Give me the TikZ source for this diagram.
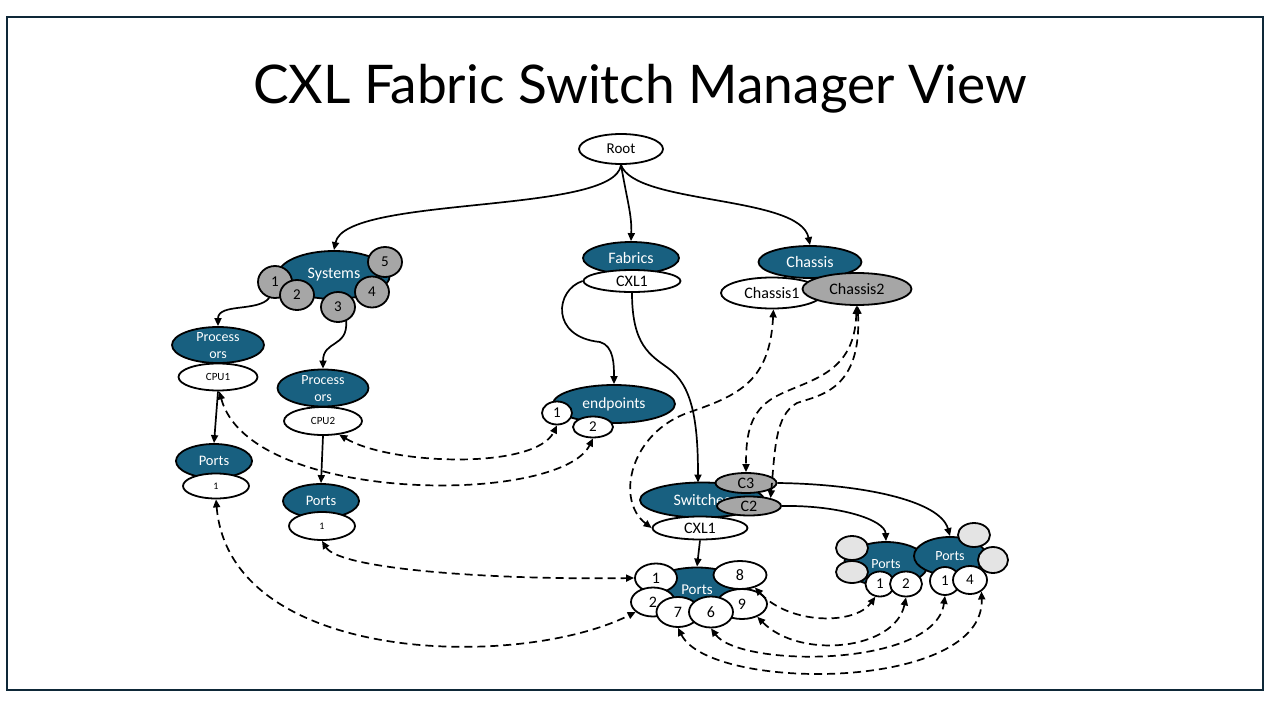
\documentclass[tikz,border=0pt]{standalone}
\usepackage{fontspec}
\setmainfont{Carlito}
\newfontfamily\titlefont{Lato}
\usepackage{graphicx}
\usetikzlibrary{shapes.geometric,arrows.meta}
\definecolor{nodeblue}{RGB}{24,96,128}
\definecolor{satgray}{RGB}{166,166,166}
\definecolor{lgray}{RGB}{228,228,228}
\definecolor{frameC}{RGB}{14,40,56}
\newcommand\fsz[1]{\fontsize{#1}{#1}\selectfont}
\begin{document}
\begin{tikzpicture}[x=1pt,y=-1pt,
  baseE/.style={ellipse, draw=black, line width=1.8pt, inner sep=0pt},
  blueE/.style={baseE, fill=nodeblue, text=white},
  whiteE/.style={baseE, fill=white},
  grayE/.style={baseE, fill=satgray},
  lgrayE/.style={baseE, fill=lgray},
  sz/.style 2 args={minimum width=#1pt, minimum height=#2pt},
  btxt/.style={text=white, align=center, inner sep=0pt, font=\fontsize{14}{17}\selectfont},
  conn/.style={line width=1.7pt, -{Triangle[length=8pt,width=7pt]}},
  dconn/.style={line width=1.7pt, dash pattern=on 8pt off 5pt,
     {Triangle[length=8pt,width=7pt]}-{Triangle[length=8pt,width=7pt]}}
]
\useasboundingbox (0,0) rectangle (1280,720);
\fill[white] (0,0) rectangle (1280,720);
\draw[line width=2pt, frameC] (7,17) rectangle (1263,690);

% title
\node[anchor=base, inner sep=0pt] (title) at (640,103)
  {\resizebox{774pt}{!}{\titlefont CXL Fabric Switch Manager View}};

% root
\node[whiteE, sz={84}{30}, font=\fsz{15}] (root) at (621,149) {Root};

% systems
\node[blueE, sz={112}{48}, font=\fsz{16}] (sys) at (334,275) {Systems};
\node[grayE, sz={34}{32}, font=\fsz{15}] (s1) at (275,282) {1};
\node[grayE, sz={34}{30}, font=\fsz{15}] (s2) at (297,295) {2};
\node[grayE, sz={34}{30}, font=\fsz{15}] (s3) at (338,307) {3};
\node[grayE, sz={34}{31}, font=\fsz{15}] (s4) at (372,292) {4};
\node[grayE, sz={34}{30}, font=\fsz{15}] (s5) at (385,262) {5};

% processors A
\node[blueE, sz={92}{36}] (procA) at (218,345) {};
\node[btxt] (procAT) at (218,346) {Process\\ors};
\node[whiteE, sz={79}{27}, font=\fsz{11}] (cpu1) at (218,377) {CPU1};
% processors B
\node[blueE, sz={91}{37}] (procB) at (323,388) {};
\node[btxt] (procBT) at (323,389) {Process\\ors};
\node[whiteE, sz={78}{28}, font=\fsz{11}] (cpu2) at (323,421) {CPU2};

% ports A/B
\node[blueE, sz={76}{34}, font=\fsz{14.5}] (portsA) at (214,461) {Ports};
\node[whiteE, sz={66}{25}, font=\fsz{10}] (pa1) at (216,486) {1};
\node[blueE, sz={76}{34}, font=\fsz{14.5}] (portsB) at (321,501) {Ports};
\node[whiteE, sz={66}{28}, font=\fsz{10}] (pb1) at (322,526) {1};

% fabrics
\node[blueE, sz={96}{32}, font=\fsz{16}] (fab) at (631,258) {Fabrics};
\node[whiteE, sz={97}{22}, font=\fsz{16}] (fabcxl) at (632,281) {CXL1};

% chassis
\node[blueE, sz={103}{32}, font=\fsz{16}] (chas) at (810,262) {Chassis};
\node[whiteE, sz={102}{31}, font=\fsz{16}] (ch1) at (772,293) {Chassis1};
\node[grayE, sz={109}{32}, font=\fsz{16}] (ch2) at (857,289) {Chassis2};

% endpoints
\node[blueE, sz={122}{38}, font=\fsz{15.5}] (ep) at (614,404) {endpoints};
\node[whiteE, sz={30}{23}, font=\fsz{15}] (ep1) at (557,413) {1};
\node[whiteE, sz={40}{21}, font=\fsz{15}] (ep2) at (593,427) {2};

% switches
\node[blueE, sz={124}{35}, font=\fsz{16}] (sw) at (702,500) {Switches};
\node[grayE, sz={61}{20}, font=\fsz{16}] (c3) at (746,483) {C3};
\node[grayE, sz={64}{19}, font=\fsz{16}] (c2) at (749,506) {C2};
\node[whiteE, sz={95}{23}, font=\fsz{16}] (swcxl) at (700,528) {CXL1};

% central ports
\node[blueE, sz={100}{45}, font=\fsz{15}] (pc) at (697,590) {Ports};
\node[whiteE, sz={42}{29}, font=\fsz{16}] (pc1) at (656,578) {1};
\node[whiteE, sz={53}{28}, font=\fsz{16}] (pc8) at (740,575) {8};
\node[whiteE, sz={44}{29}, font=\fsz{16}] (pc2) at (653,602) {2};
\node[whiteE, sz={50}{30}, font=\fsz{16}] (pc9) at (742,604) {9};
\node[whiteE, sz={43}{30}, font=\fsz{16}] (pc7) at (678,612) {7};
\node[whiteE, sz={44}{31}, font=\fsz{16}] (pc6) at (711,612) {6};

% right ports group 1
\node[blueE, sz={84}{44}, font=\fsz{14}] (g1) at (886,564) {Ports};
\node[lgrayE, sz={32}{24}] (g1a) at (852,548) {};
\node[lgrayE, sz={32}{22}] (g1b) at (852,572) {};
\node[whiteE, sz={29}{25}, font=\fsz{15}] (g1p1) at (880,584) {1};
\node[whiteE, sz={32}{25}, font=\fsz{15}] (g1p2) at (906,584) {2};
% right ports group 2
\node[blueE, sz={72}{38}, font=\fsz{14}] (g2) at (950,556) {Ports};
\node[lgrayE, sz={32}{24}] (g2a) at (974,535) {};
\node[lgrayE, sz={30}{26}] (g2b) at (993,560) {};
\node[whiteE, sz={30}{28}, font=\fsz{15}] (g2p1) at (945,581) {1};
\node[whiteE, sz={34}{28}, font=\fsz{15}] (g2p4) at (970,580) {4};

% solid connectors
\draw[conn] (root.south) .. controls (615,215) and (345,195) .. (sys.north);
\draw[conn] (root.south) .. controls (627,200) and (632,215) .. (fab.north);
\draw[conn] (root.south) .. controls (635,205) and (800,195) .. (chas.north);
\draw[conn] (s1.-110) .. controls (258,312) and (218,303) .. (procA.north);
\draw[conn] (s3.-60) .. controls (348,348) and (323,340) .. (procB.north);
\draw[conn] (cpu1.south) -- (portsA.north);
\draw[conn] (cpu2.south) -- (portsB.north);
\draw[conn] (fabcxl.west) .. controls (555,290) and (550,337) .. (600,342)
   .. controls (614,346) and (614,365) .. (ep.north);
\draw[conn] (fabcxl.south) .. controls (632,345) and (650,355) .. (668,368)
   .. controls (692,385) and (698,420) .. (698,482.5);
\draw[conn] (swcxl.south) -- (pc.north);
\draw[conn] (c3.east) .. controls (860,484) and (940,500) .. (g2.north);
\draw[conn] (c2.east) .. controls (840,505) and (885,520) .. (g1.north);

% dashed connectors
\draw[dconn] (cpu1.-85) .. controls (250,505) and (560,505) .. (ep2.south);
\draw[dconn] (cpu2.-40) .. controls (390,465) and (535,470) .. (ep1.south);
\draw[dconn] (pa1.south) .. controls (230,665) and (520,670) .. (pc2.-150);
\draw[dconn] (pb1.south) .. controls (340,570) and (500,580) .. (pc1.west);
\draw[dconn] (ch1.-85) .. controls (770,380) and (740,395) .. (690,412)
   .. controls (630,432) and (615,500) .. (swcxl.west);
\draw[dconn] (ch2.-92) .. controls (855,380) and (800,380) .. (770,400)
   .. controls (748,415) and (746,440) .. (c3.north);
\draw[dconn] (ch2.-88) .. controls (862,390) and (820,395) .. (797,403)
   .. controls (775,415) and (775,450) .. (c2.20);
\draw[dconn] (pc8.-40) .. controls (790,625) and (855,625) .. (g1p1.-110);
\draw[dconn] (pc9.-40) .. controls (800,660) and (895,650) .. (g1p2.south);
\draw[dconn] (pc6.south) .. controls (740,668) and (935,668) .. (g2p1.south);
\draw[dconn] (pc7.south) .. controls (710,692) and (985,692) .. (g2p4.-45);
\end{tikzpicture}
\end{document}
